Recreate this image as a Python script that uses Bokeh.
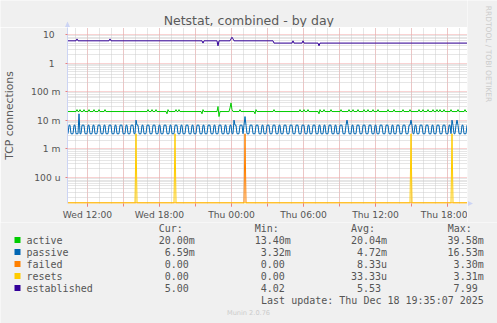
import datetime as dt
import math
from bokeh.plotting import figure
from bokeh.layouts import column, row
from bokeh.models import FixedTicker, DatetimeTickFormatter, Range1d
from bokeh.core.properties import value
from bokeh.embed import file_html
from bokeh.resources import INLINE

W, H = 497, 323
FL, FT, FR, FB = 67, 27, 467, 203
MAIN_H = 222

# ---------------- data ----------------
t0 = dt.datetime(2025, 12, 17, 10, 20)   # left edge of the graph
STEP_MIN = 5
N = 400

names = ["active", "passive", "failed", "resets", "established"]
colors = ["#00cc00", "#0066b3", "#ff8000", "#ffcc00", "#330099"]

# connections per 5-minute step (hex digits), rate = count / 300 s
active_counts = """
6666666667 6676667666 6766667666 6766666766 6666666666
6666666666 6666666666 6666666666 7666766676 6666666665
7666666676 6766666666 6666666666 6666576666 6666666666
9466666666 668c766666 6676666666 6666666576 6666666666
6666667666 6666666666 6666666666 6676667666 7666666666
6576667666 6667666666 6667666666 6766676666 7666667666
7666676666 7666666666 7666667666 6666676666 6676666666
6766676666 7666676667 6676667666 6667666666 7666666766
"""
passive_counts = """
1221112211 1511222111 2211122111 2221112211 1222111221
1122211122 1112221132 2111221112 2211122211 1221112221
1122111222 1112211122 2111221112 2211122111 2221112211
1222111221 1122113221 1122212421 1122211122 2111221112
2211122211 1221112221 1122211122 2111222111 2211122211
1221112211 1222111221 1122211123 2111221112 2211122211
1222111221 1122211122 2111221112 2211122211 1223211221
1122211122 2111221112 2211122211 1221321123 2111221112
"""
failed_events = [177]                # steps with one failed connection
resets_events = [68, 107, 343, 384]  # steps with one reset
established_vals = """
6666666667 6666666666 6666666666 6666666666 6676666666
6666666666 6666666666 6666666666 6666666666 6666666666
6666666666 6666666666 6666666666 6666656666 6666666666
4666666666 6667876666 6666666666 6666666666 6666666666
6666665555 5555555555 5555565555 5555565555 5555555555
5455555555 5555555555 5555555555 5555555555 5555555555
5555555555 5555555555 5555555555 5555555555 5555555555
5555555555 5555555555 5555555555 5555555555 5555555555
"""

cur_vals = ["20.00m", "6.59m", "0.00", "0.00", "5.00"]
min_vals = ["13.40m", "3.32m", "0.00", "0.00", "4.02"]
avg_vals = ["20.04m", "4.72m", "8.33u", "33.33u", "5.53"]
max_vals = ["39.58m", "16.53m", "3.30m", "3.31m", "7.99"]
col_heads = ["Cur:", "Min:", "Avg:", "Max:"]

y_ticks = [1e-4, 1e-3, 1e-2, 1e-1, 1.0, 10.0]
y_tick_labels = ["100 u", "1 m", "10 m", "100 m", "1", "10"]
x_tick_hours = [12, 18, 24, 30, 36, 42]   # hours after Wed 00:00

title = "Netstat, combined - by day"
ylabel = "TCP connections"
last_update = "Last update: Thu Dec 18 19:35:07 2025"
footer = "Munin 2.0.76"
side = "RRDTOOL / TOBI OETIKER"


def digits(s):
    return "".join(s.split())


a_s, p_s, e_s = digits(active_counts), digits(passive_counts), digits(established_vals)
assert len(a_s) == N and len(p_s) == N and len(e_s) == N

active = [int(c, 16) / 300 for c in a_s]
passive = [int(c) / 300 for c in p_s]
established = [float(c) for c in e_s]
failed = [0.0] * N
for i in failed_events:
    failed[i] = 1 / 300
resets = [0.0] * N
for i in resets_events:
    resets[i] = 1 / 300

times = [t0 + dt.timedelta(minutes=STEP_MIN * i + STEP_MIN / 2) for i in range(N)]
t1 = t0 + dt.timedelta(minutes=STEP_MIN * N)

YLO, YHI = 10 ** -4.92, 10 ** 1.245
FLOOR = 10 ** -4.9


def floor0(v):
    return [x if x > 0 else FLOOR for x in v]


RED = "#f2a6a6"
GRAY = "#cccccc"
TXT = "#555555"
AX = "#ccd4f4"
BG = "#f0f0f0"


def strip(x0, x1, y0, y1):
    """A figure whose frame is the canvas region [x0,x1] x [y0,y1] (pixels)."""
    f = figure(width=x1 - x0, height=y1 - y0, x_range=Range1d(x0, x1),
               y_range=Range1d(y1, y0), toolbar_location=None,
               output_backend="svg", min_border=0,
               x_axis_location=None, y_axis_location=None)
    f.grid.visible = False
    f.background_fill_color = BG
    f.border_fill_color = BG
    f.outline_line_color = None
    if "frame_align" in f.properties():
        f.frame_align = False
    return f


# ---------------- main figure ----------------
p = figure(frame_width=FR - FL, frame_height=FB - FT,
           x_axis_type="datetime", y_axis_type="log",
           x_range=(t0, t1), y_range=(YLO, YHI), title=None,
           toolbar_location=None, output_backend="svg",
           min_border_left=FL, min_border_right=0,
           min_border_top=0, min_border_bottom=MAIN_H - FB)
p.background_fill_color = "white"
p.border_fill_color = BG
p.outline_line_color = None
if "frame_align" in p.properties():
    p.frame_align = False

epoch = dt.datetime(1970, 1, 1)


def ms(d):
    return (d - epoch).total_seconds() * 1000.0


day0 = dt.datetime(2025, 12, 17)
hours_in = [day0 + dt.timedelta(hours=h) for h in range(48)]
hours_in = [h for h in hours_in if t0 <= h <= t1]
maj3 = [ms(h) for h in hours_in if h.hour % 3 == 0]
min1 = [ms(h) for h in hours_in]
maj6 = [ms(day0 + dt.timedelta(hours=h)) for h in x_tick_hours]

minor_y = [m * 10 ** k for k in range(-5, 2) for m in range(2, 10)
           if YLO < m * 10 ** k < YHI]

xg = p.xgrid[0]
xg.ticker = FixedTicker(ticks=maj3, minor_ticks=min1)
xg.grid_line_color = RED
xg.grid_line_dash = "1 1"
xg.minor_grid_line_color = GRAY
xg.minor_grid_line_dash = "1 1"

yg = p.ygrid[0]
yg.ticker = FixedTicker(ticks=y_ticks, minor_ticks=minor_y)
yg.grid_line_color = RED
yg.grid_line_dash = "1 1"
yg.minor_grid_line_color = GRAY
yg.minor_grid_line_dash = "1 1"

xa = p.xaxis[0]
xa.ticker = FixedTicker(ticks=maj6, minor_ticks=maj3)
xa.formatter = DatetimeTickFormatter(hours="%a %H:%M", hourmin="%a %H:%M",
                                     days="%a %H:%M", minutes="%a %H:%M")
xa.axis_line_color = None
xa.major_tick_line_color = "#e88080"
xa.minor_tick_line_color = "#e88080"
xa.major_tick_out = 3
xa.major_tick_in = 0
xa.minor_tick_out = 3
xa.minor_tick_in = 0
xa.major_label_standoff = 2
xa.major_label_text_font = "DejaVu Sans"
xa.major_label_text_font_size = "9.2px"
xa.major_label_text_color = TXT

ya = p.yaxis[0]
ya.ticker = FixedTicker(ticks=y_ticks)
ya.major_label_overrides = {
    t: (lab if " " in lab else lab + "\u00a0\u00a0")
    for t, lab in zip(y_ticks, y_tick_labels)
}
ya.axis_line_color = AX
ya.major_tick_line_color = "#e88080"
ya.major_tick_out = 2
ya.major_tick_in = 0
ya.minor_tick_line_color = None
ya.major_label_standoff = 5
ya.major_label_text_font = "DejaVu Sans"
ya.major_label_text_font_size = "9.2px"
ya.major_label_text_color = TXT
ya.axis_label = ylabel
ya.axis_label_text_font = "DejaVu Sans"
ya.axis_label_text_font_size = "10.8px"
ya.axis_label_text_font_style = "normal"
ya.axis_label_text_color = "#5a5a5a"
ya.axis_label_standoff = 12

for vals, col in zip([active, passive, failed, resets, established], colors):
    p.line(times, floor0(vals), line_color=col, line_width=1)

# ---------------- top strip: title + axis arrow ----------------
top = strip(0, FR, 0, FT)
top.text(x=[248.3], y=[19.5], text=[title], text_font=value("DejaVu Sans"),
         text_font_size=value("12.5px"), text_color="#5a5a5a",
         text_align="center", text_baseline="middle")
top.patch(x=[FL - 2.5, FL + 2.5, FL], y=[26.5, 26.5, 21], fill_color=AX,
          line_color=None)

# ---------------- right strip: rrdtool credit + axis arrow ----------------
rs = strip(FR, W, 0, MAIN_H)
rs.text(x=[487.5], y=[53.5], text=[side], text_font=value("DejaVu Sans"),
        text_font_size=value("7.5px"), text_color="#cccccc", angle=-math.pi / 2,
        text_align="center", text_baseline="middle")
rs.patch(x=[FR + 0.5, FR + 0.5, FR + 5.5], y=[FB - 2.5, FB + 2.5, FB],
         fill_color=AX, line_color=None)

# ---------------- legend strip ----------------
q = strip(0, W, MAIN_H, H)

MONO = value("DejaVu Sans Mono")
FS = value("10px")
hdr_y = 227.5
row_y = [239.5 + 12 * k for k in range(len(names))]
col_end = [188.3, 284.3, 380.5, 477.2]

q.rect(x=[17] * len(names), y=row_y, width=6, height=6,
       fill_color=colors, line_color=None)

tl_x, tl_y, tl_t = [], [], []        # left aligned texts
tr_x, tr_y, tr_t = [], [], []        # right aligned texts
for ce, h in zip(col_end, col_heads):
    tl_x.append(ce - 30); tl_y.append(hdr_y); tl_t.append(h)
for k, nm in enumerate(names):
    tl_x.append(26); tl_y.append(row_y[k]); tl_t.append(nm)
    for ce, arr in zip(col_end, [cur_vals, min_vals, avg_vals, max_vals]):
        s = arr[k]
        num, suf = (s[:-1], s[-1]) if s[-1].isalpha() else (s, "")
        tr_x.append(ce); tr_y.append(row_y[k]); tr_t.append(num)
        if suf:
            tl_x.append(ce); tl_y.append(row_y[k]); tl_t.append(suf)
tr_x.append(483.3); tr_y.append(299.5); tr_t.append(last_update)

q.text(x=tl_x, y=tl_y, text=tl_t, text_font=MONO, text_font_size=FS,
       text_color=TXT, text_align="left", text_baseline="middle")
q.text(x=tr_x, y=tr_y, text=tr_t, text_font=MONO, text_font_size=FS,
       text_color=TXT, text_align="right", text_baseline="middle")
q.text(x=[248], y=[312.7], text=[footer], text_font=value("DejaVu Sans"),
       text_font_size=value("6.6px"), text_color="#cccccc",
       text_align="center", text_baseline="middle")

layout = column(row(column(top, p, spacing=0), rs, spacing=0), q, spacing=0)
open("out.html", "w").write(file_html(layout, INLINE))
